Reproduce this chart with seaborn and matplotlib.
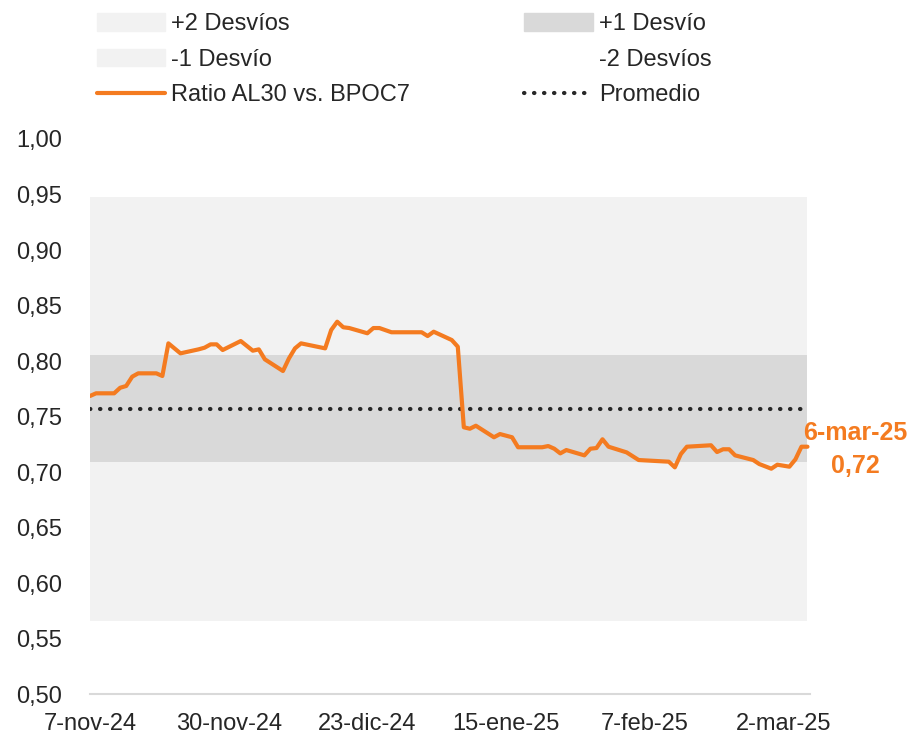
import pandas as pd
import matplotlib.pyplot as plt
from matplotlib.patches import Patch
from matplotlib.lines import Line2D
import seaborn as sns

# data
fechas = [
    "2024-11-07", "2024-11-08", "2024-11-11", "2024-11-12", "2024-11-13", "2024-11-14",
    "2024-11-15", "2024-11-18", "2024-11-19", "2024-11-20", "2024-11-22", "2024-11-25",
    "2024-11-26", "2024-11-27", "2024-11-28", "2024-11-29", "2024-12-02", "2024-12-04",
    "2024-12-05", "2024-12-06", "2024-12-09", "2024-12-10", "2024-12-11", "2024-12-12",
    "2024-12-16", "2024-12-17", "2024-12-18", "2024-12-19", "2024-12-20", "2024-12-23",
    "2024-12-24", "2024-12-25", "2024-12-27", "2025-01-01", "2025-01-02", "2025-01-03",
    "2025-01-06", "2025-01-07", "2025-01-08", "2025-01-09", "2025-01-10", "2025-01-13",
    "2025-01-14", "2025-01-16", "2025-01-17", "2025-01-21", "2025-01-22", "2025-01-23",
    "2025-01-24", "2025-01-25", "2025-01-28", "2025-01-29", "2025-01-30", "2025-01-31",
    "2025-02-01", "2025-02-04", "2025-02-06", "2025-02-11", "2025-02-12", "2025-02-13",
    "2025-02-14", "2025-02-18", "2025-02-19", "2025-02-20", "2025-02-21", "2025-02-22",
    "2025-02-25", "2025-02-26", "2025-02-28", "2025-03-01", "2025-03-03", "2025-03-04",
    "2025-03-05", "2025-03-06",
]
ratio = [
    0.7685, 0.7709, 0.7709, 0.7759, 0.7775, 0.7859,
    0.7889, 0.7889, 0.7865, 0.8159, 0.8069, 0.8105,
    0.8120, 0.8150, 0.8150, 0.8099, 0.8180, 0.8093,
    0.8105, 0.8015, 0.7910, 0.8024, 0.8114, 0.8159,
    0.8114, 0.8279, 0.8354, 0.8304, 0.8297, 0.8250,
    0.8297, 0.8297, 0.8259, 0.8259, 0.8225, 0.8264,
    0.8189, 0.8129, 0.7403, 0.7390, 0.7417, 0.7313,
    0.7342, 0.7313, 0.7223, 0.7223, 0.7234, 0.7210,
    0.7168, 0.7198, 0.7150, 0.7210, 0.7216, 0.7295,
    0.7228, 0.7177, 0.7108, 0.7093, 0.7042, 0.7162,
    0.7228, 0.7241, 0.7180, 0.7205, 0.7205, 0.7150,
    0.7108, 0.7072, 0.7030, 0.7066, 0.7048, 0.7114,
    0.7228, 0.7228,
]
promedio = 0.757
# band limits (bottom -> top): -2 Desvíos, -1 Desvío, +1 Desvío, +2 Desvíos
bandas = [0.50, 0.566, 0.709, 0.805, 0.948]
band_labels = ["-2 Desvíos", "-1 Desvío", "+1 Desvío", "+2 Desvíos"]
band_colors = ["#FFFFFF", "#F2F2F2", "#D9D9D9", "#F2F2F2"]

xtick_dates = ["2024-11-07", "2024-11-30", "2024-12-23", "2025-01-15", "2025-02-07", "2025-03-02"]
xtick_labels = ["7-nov-24", "30-nov-24", "23-dic-24", "15-ene-25", "7-feb-25", "2-mar-25"]
yticks = [0.50, 0.55, 0.60, 0.65, 0.70, 0.75, 0.80, 0.85, 0.90, 0.95, 1.00]

df = pd.DataFrame({"fecha": pd.to_datetime(fechas), "ratio": ratio})
df["promedio"] = promedio

sns.set_theme(style="white")
plt.rcParams["font.family"] = ["Liberation Sans", "DejaVu Sans"]

naranja = "#F47B20"
dots = (0, (0.1, 2.3))
fig = plt.figure(figsize=(9.12, 7.37), dpi=100)
ax = fig.add_axes([0.0987, 0.0583, 0.79, 0.7531])

# stacked bands
for i in range(4):
    ax.fill_between(df["fecha"], bandas[i], bandas[i + 1], color=band_colors[i], lw=0, zorder=1)

sns.lineplot(data=df, x="fecha", y="promedio", ax=ax, color="#262626", lw=3,
             linestyle=dots, dash_capstyle="round", zorder=2)
sns.lineplot(data=df, x="fecha", y="ratio", ax=ax, color=naranja, lw=3, zorder=3)

ax.set_ylim(0.50, 1.00)
ax.set_xlim(df["fecha"].iloc[0], df["fecha"].iloc[-1] + pd.Timedelta(days=0.5))
ax.set_yticks(yticks)
ax.set_yticklabels([f"{v:.2f}".replace(".", ",") for v in yticks])
ax.set_xticks(pd.to_datetime(xtick_dates))
ax.set_xticklabels(xtick_labels)
ax.tick_params(axis="both", labelsize=17, colors="#262626", length=0)
ax.tick_params(axis="y", pad=20)
ax.tick_params(axis="x", pad=14)
ax.set_xlabel("")
ax.set_ylabel("")
for s in ["top", "right", "left"]:
    ax.spines[s].set_visible(False)
ax.spines["bottom"].set_color("#D9D9D9")
ax.spines["bottom"].set_linewidth(1.5)

# last value label
last = df.iloc[-1]
ax.annotate("6-mar-25", xy=(last["fecha"], last["ratio"]), xytext=(48, 14),
            textcoords="offset pixels", ha="center", va="center",
            color=naranja, fontsize=18, fontweight="bold", annotation_clip=False)
ax.annotate(f"{last['ratio']:.2f}".replace(".", ","), xy=(last["fecha"], last["ratio"]),
            xytext=(48, -19), textcoords="offset pixels", ha="center", va="center",
            color=naranja, fontsize=18, fontweight="bold", annotation_clip=False)

# legend in two blocks
h_left = [Patch(color=band_colors[3]), Patch(color=band_colors[1]), Line2D([], [], color=naranja, lw=3)]
l_left = ["+2 Desvíos", "-1 Desvío", "Ratio AL30 vs. BPOC7"]
h_right = [Patch(color=band_colors[2]), Patch(color=band_colors[0]),
           Line2D([], [], color="#262626", lw=3, linestyle=dots, dash_capstyle="round")]
l_right = ["+1 Desvío", "-2 Desvíos", "Promedio"]
kw = dict(loc="upper left", frameon=False, fontsize=17, handlelength=2.9, handleheight=0.75,
          handletextpad=0.25, labelspacing=0.57, borderpad=0, borderaxespad=0, labelcolor="#262626")
fig.legend(h_left, l_left, bbox_to_anchor=(0.106, 0.982), **kw)
fig.legend(h_right, l_right, bbox_to_anchor=(0.575, 0.982), **kw)

plt.savefig("out.png", dpi=100)
plt.close()
